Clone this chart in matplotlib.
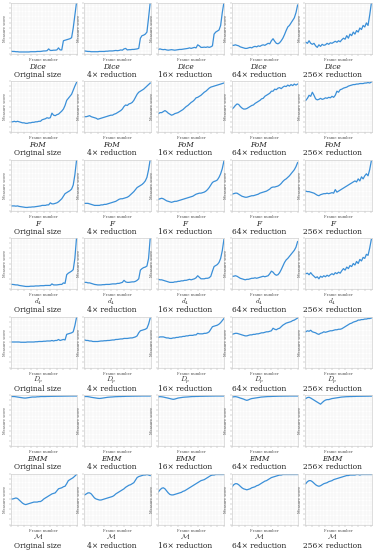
import matplotlib
matplotlib.use("Agg")
import matplotlib.pyplot as plt

# ---------------- data (measure score per frame) ----------------
frame_index = list(range(41))

reductions = ["Original size", "4\u00d7 reduction", "16\u00d7 reduction", "64\u00d7 reduction", "256\u00d7 reduction"]
metric_labels = ["Dice", "FoM", "F", r"$d_4$", r"$D_p$", "EMM", r"$\mathcal{M}$"]

dice_original = [.045,.04,.04,.035,.035,.03,.03,.03,.03,.03,.03,.03,.035,.035,.035,.035,.04,.04,.04,.045,.05,.05,.055,.09,.06,.06,.065,.065,.07,.11,.07,.07,.25,.26,.27,.28,.29,.31,.5,.75,1.0]
dice_4x = [.05,.045,.04,.04,.035,.035,.035,.035,.035,.04,.04,.04,.04,.045,.045,.05,.05,.05,.055,.06,.055,.06,.07,.065,.09,.1,.07,.075,.075,.08,.08,.085,.09,.1,.3,.35,.36,.38,.42,.7,1.0]
dice_16x = [.08,.09,.08,.075,.08,.07,.065,.07,.075,.07,.065,.07,.075,.08,.08,.085,.09,.095,.1,.11,.1,.11,.12,.11,.17,.15,.12,.12,.125,.12,.13,.12,.13,.15,.38,.42,.44,.46,.55,.8,1.0]
dice_64x = [.16,.16,.17,.16,.15,.13,.12,.11,.1,.1,.11,.12,.11,.13,.14,.13,.15,.14,.16,.17,.16,.18,.2,.19,.25,.29,.24,.2,.19,.21,.25,.3,.37,.45,.52,.55,.6,.65,.7,.8,.95]
dice_256x = [.22,.2,.25,.2,.18,.2,.15,.12,.17,.14,.18,.16,.17,.2,.18,.21,.2,.22,.24,.22,.25,.23,.27,.3,.28,.35,.3,.38,.35,.42,.38,.45,.42,.5,.47,.55,.52,.6,.55,.75,.98]

fom_original = [.2,.2,.21,.2,.21,.2,.19,.18,.18,.17,.17,.18,.18,.19,.19,.2,.2,.21,.21,.24,.25,.26,.28,.27,.28,.37,.33,.32,.34,.35,.38,.41,.45,.52,.62,.66,.7,.74,.82,.9,.97]
fom_4x = [.3,.3,.31,.32,.3,.29,.28,.27,.25,.26,.27,.28,.29,.3,.31,.32,.33,.33,.35,.36,.38,.4,.42,.45,.5,.53,.52,.55,.56,.58,.62,.68,.74,.78,.8,.82,.84,.87,.9,.93,.96]
fom_16x = [.36,.38,.38,.4,.42,.4,.37,.35,.33,.34,.36,.37,.38,.4,.42,.44,.47,.5,.52,.55,.58,.6,.63,.67,.68,.7,.72,.75,.78,.8,.83,.86,.88,.89,.9,.91,.92,.93,.94,.95,.96]
fom_64x = [.45,.48,.52,.55,.54,.5,.47,.45,.45,.46,.48,.5,.52,.53,.56,.58,.6,.62,.65,.66,.7,.72,.74,.76,.8,.8,.84,.83,.86,.87,.85,.88,.9,.89,.92,.9,.93,.91,.94,.92,.94]
fom_256x = [.62,.66,.72,.7,.78,.72,.65,.63,.64,.66,.64,.65,.67,.66,.68,.67,.7,.68,.72,.8,.78,.83,.84,.86,.87,.88,.9,.91,.92,.93,.93,.94,.94,.95,.95,.95,.96,.96,.97,.96,.98]

f_original = [.09,.09,.09,.085,.09,.08,.075,.07,.065,.06,.06,.065,.065,.07,.07,.075,.08,.085,.09,.1,.1,.1,.11,.11,.15,.13,.13,.14,.15,.17,.2,.23,.28,.33,.35,.37,.39,.42,.5,.7,.98]
f_4x = [.14,.14,.14,.13,.12,.11,.1,.1,.1,.1,.11,.11,.12,.12,.13,.14,.15,.16,.17,.18,.2,.22,.23,.23,.24,.25,.26,.28,.31,.34,.37,.41,.45,.47,.49,.51,.54,.58,.65,.8,1.0]
f_16x = [.22,.23,.24,.23,.21,.19,.18,.17,.16,.17,.18,.18,.19,.2,.21,.22,.23,.24,.25,.26,.27,.28,.3,.32,.33,.34,.34,.35,.36,.38,.41,.45,.5,.55,.57,.58,.6,.65,.72,.82,.97]
f_64x = [.32,.33,.34,.34,.32,.3,.28,.27,.26,.26,.27,.28,.29,.29,.3,.31,.32,.34,.35,.36,.37,.38,.4,.42,.45,.46,.46,.47,.48,.5,.53,.57,.6,.62,.65,.68,.72,.76,.8,.86,.94]
f_256x = [.38,.37,.37,.36,.35,.34,.32,.3,.29,.31,.32,.33,.33,.34,.33,.34,.35,.34,.41,.36,.38,.4,.42,.44,.46,.48,.5,.52,.54,.56,.58,.56,.62,.58,.66,.62,.68,.72,.68,.8,.97]

d4_original = [.09,.09,.085,.08,.08,.07,.065,.06,.055,.05,.05,.05,.055,.055,.055,.06,.06,.06,.065,.065,.065,.07,.07,.07,.07,.1,.08,.08,.08,.085,.09,.09,.12,.11,.28,.31,.33,.35,.38,.6,1.0]
d4_4x = [.13,.13,.12,.12,.11,.1,.09,.085,.08,.08,.08,.085,.085,.09,.09,.09,.095,.1,.1,.1,.11,.11,.12,.13,.17,.14,.13,.13,.135,.14,.14,.15,.17,.2,.37,.4,.42,.43,.45,.6,1.0]
d4_16x = [.19,.18,.18,.17,.16,.15,.14,.13,.13,.13,.14,.14,.15,.15,.16,.16,.17,.17,.18,.19,.18,.19,.2,.22,.26,.23,.2,.2,.2,.21,.21,.22,.25,.35,.44,.46,.48,.52,.6,.75,.97]
d4_64x = [.25,.25,.26,.25,.23,.21,.2,.19,.18,.19,.19,.2,.21,.21,.22,.21,.22,.23,.24,.25,.24,.25,.26,.3,.35,.33,.29,.27,.28,.32,.38,.45,.52,.57,.6,.64,.68,.72,.76,.82,.93]
d4_256x = [.3,.31,.28,.32,.28,.25,.22,.24,.2,.25,.23,.26,.24,.27,.25,.28,.3,.28,.32,.3,.33,.31,.36,.4,.37,.43,.4,.46,.44,.5,.47,.54,.5,.58,.55,.62,.6,.68,.66,.8,.97]

dp_original = [.5,.5,.5,.5,.5,.5,.495,.495,.495,.495,.5,.5,.5,.5,.5,.505,.505,.51,.51,.51,.515,.515,.52,.52,.52,.53,.52,.53,.53,.55,.53,.54,.55,.54,.65,.66,.67,.68,.7,.82,.98]
dp_4x = [.54,.53,.53,.52,.52,.51,.51,.51,.51,.515,.52,.52,.525,.525,.53,.53,.535,.54,.54,.55,.55,.555,.56,.56,.57,.57,.57,.575,.58,.58,.59,.6,.62,.68,.72,.73,.74,.75,.77,.85,.97]
dp_16x = [.59,.6,.6,.6,.59,.58,.58,.57,.57,.58,.58,.59,.59,.6,.6,.61,.61,.62,.62,.63,.63,.63,.64,.64,.67,.66,.66,.66,.67,.67,.68,.7,.75,.8,.81,.82,.83,.85,.88,.92,.96]
dp_64x = [.65,.66,.67,.67,.66,.65,.64,.63,.62,.62,.63,.64,.64,.65,.65,.66,.66,.67,.68,.68,.69,.7,.7,.71,.72,.77,.75,.74,.76,.77,.8,.83,.85,.87,.88,.89,.9,.92,.93,.95,.97]
dp_256x = [.7,.72,.71,.73,.7,.69,.68,.66,.65,.67,.68,.7,.69,.7,.71,.72,.72,.73,.74,.74,.75,.75,.76,.78,.8,.82,.84,.86,.87,.89,.9,.91,.93,.93,.94,.94,.95,.95,.96,.96,.97]

emm_original = [.97,.97,.97,.965,.96,.955,.95,.945,.94,.94,.945,.95,.955,.96,.96,.96,.965,.965,.97,.97,.97,.97,.972,.972,.974,.974,.975,.975,.976,.976,.977,.977,.978,.978,.979,.979,.98,.98,.98,.98,.98]
emm_4x = [.97,.97,.968,.962,.955,.95,.945,.94,.935,.932,.935,.94,.945,.95,.955,.958,.96,.962,.965,.967,.968,.97,.97,.972,.972,.974,.975,.975,.976,.977,.977,.978,.978,.979,.979,.98,.98,.98,.98,.98,.98]
emm_16x = [.965,.968,.965,.96,.952,.945,.938,.93,.922,.915,.92,.93,.94,.945,.95,.955,.958,.96,.962,.965,.968,.97,.97,.972,.972,.974,.975,.975,.976,.977,.977,.978,.978,.979,.979,.98,.98,.98,.98,.98,.98]
emm_64x = [.96,.965,.968,.962,.952,.94,.93,.92,.905,.895,.905,.92,.93,.935,.94,.945,.95,.955,.96,.962,.965,.967,.97,.97,.972,.973,.974,.975,.976,.977,.977,.978,.978,.979,.979,.98,.98,.98,.98,.98,.98]
emm_256x = [.93,.95,.955,.94,.92,.9,.88,.86,.84,.82,.85,.88,.9,.91,.91,.92,.93,.935,.94,.945,.95,.955,.96,.962,.965,.967,.968,.97,.97,.972,.972,.974,.974,.975,.975,.976,.976,.977,.977,.978,.978]

m_original = [.5,.5,.51,.52,.51,.48,.45,.42,.4,.39,.4,.41,.42,.43,.44,.44,.44,.45,.45,.47,.5,.52,.54,.56,.58,.6,.61,.62,.66,.7,.71,.72,.74,.75,.8,.86,.88,.9,.92,.95,.98]
m_4x = [.58,.6,.62,.62,.6,.56,.52,.5,.49,.48,.48,.49,.5,.51,.52,.53,.54,.55,.57,.6,.62,.64,.66,.68,.7,.73,.75,.77,.78,.8,.82,.87,.92,.94,.95,.96,.97,.97,.98,.97,.96]
m_16x = [.64,.68,.71,.72,.7,.66,.62,.59,.58,.58,.59,.6,.61,.62,.63,.65,.66,.68,.7,.72,.74,.76,.78,.8,.82,.84,.86,.87,.88,.9,.92,.94,.96,.97,.97,.98,.98,.98,.98,.98,.98]
m_64x = [.74,.78,.8,.8,.78,.75,.72,.7,.69,.68,.69,.7,.72,.73,.74,.76,.77,.79,.81,.83,.85,.86,.88,.9,.92,.93,.94,.95,.96,.97,.97,.98,.98,.98,.98,.98,.98,.98,.98,.98,.98]
m_256x = [.8,.84,.86,.86,.84,.81,.78,.76,.75,.76,.78,.8,.81,.82,.84,.85,.86,.88,.89,.9,.91,.92,.93,.94,.95,.96,.96,.97,.97,.97,.97,.98,.98,.97,.98,.98,.98,.98,.98,.98,.98]

rows = [
    [dice_original, dice_4x, dice_16x, dice_64x, dice_256x],
    [fom_original, fom_4x, fom_16x, fom_64x, fom_256x],
    [f_original, f_4x, f_16x, f_64x, f_256x],
    [d4_original, d4_4x, d4_16x, d4_64x, d4_256x],
    [dp_original, dp_4x, dp_16x, dp_64x, dp_256x],
    [emm_original, emm_4x, emm_16x, emm_64x, emm_256x],
    [m_original, m_4x, m_16x, m_64x, m_256x],
]

# ---------------- layout ----------------
W, H = 377, 550
fig = plt.figure(figsize=(W / 100, H / 100), dpi=100)
plt.rcParams['mathtext.fontset'] = 'cm'

serif = 'DejaVu Serif'
line_color = '#3a8fd8'
ax_w, ax_h = 66.5, 51
col_step, row_step = 73.7, 78.5
left0, top0 = 10.5, 2.5

for r, series_row in enumerate(rows):
    for c, values in enumerate(series_row):
        left = left0 + c * col_step
        top = top0 + r * row_step
        ax = fig.add_axes([left / W, 1 - (top + ax_h) / H, ax_w / W, ax_h / H])
        ax.plot(frame_index, values, color=line_color, lw=0.9, solid_joinstyle='round')
        ax.set_xlim(-0.3, 40.3)
        ax.set_ylim(0, 1.0)
        ax.set_xticks([i * 4 for i in range(11)])
        ax.set_yticks([i / 10 for i in range(11)])
        ax.set_xticks([i * 2 for i in range(21)], minor=True)
        ax.set_yticks([i / 20 for i in range(21)], minor=True)
        ax.tick_params(which='both', labelbottom=False, labelleft=False,
                       length=1.3, width=0.35, color='#aaaaaa', direction='out')
        ax.tick_params(which='minor', length=0)
        ax.grid(True, which='both', color='#efefef', lw=0.35)
        ax.set_axisbelow(True)
        for s in ax.spines.values():
            s.set_color('#d0d0d0')
            s.set_linewidth(0.5)
        cx = left + ax_w / 2
        # axis labels
        fig.text((left - 5.5) / W, 1 - (top + ax_h / 2) / H, 'Measure score',
                 rotation=90, ha='center', va='center', fontsize=2.6,
                 color='#555555', family=serif)
        fig.text(cx / W, 1 - (top + ax_h + 6.2) / H, 'Frame number',
                 ha='center', va='center', fontsize=2.7, color='#555555', family=serif)
        # caption
        lbl = metric_labels[r]
        if lbl.startswith('$'):
            fig.text((cx - 6) / W, 1 - (top + ax_h + 14.5) / H, lbl,
                     ha='center', va='baseline', fontsize=5.2, color='#222222')
        else:
            fig.text((cx - 6) / W, 1 - (top + ax_h + 15.2) / H, lbl,
                     ha='center', va='baseline', fontsize=5.3, style='italic',
                     color='#222222', family=serif)
        fig.text((cx - 6) / W, 1 - (top + ax_h + 23.4) / H, reductions[c],
                 ha='center', va='baseline', fontsize=5.4, color='#222222', family=serif)

fig.savefig('out.png', dpi=100)
